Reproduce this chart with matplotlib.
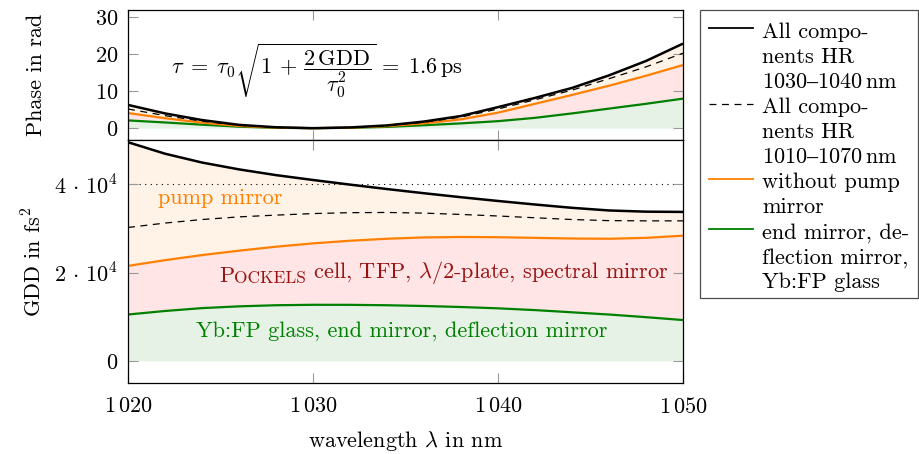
import numpy as np
import matplotlib
matplotlib.use("Agg")
import matplotlib.pyplot as plt
from matplotlib.lines import Line2D
from matplotlib.patches import Rectangle
from matplotlib.ticker import FixedLocator, FuncFormatter

plt.rcParams['font.family'] = ['cmr10', 'DejaVu Serif']
plt.rcParams['mathtext.fontset'] = 'cm'
plt.rcParams['axes.formatter.use_mathtext'] = True
plt.rcParams['axes.unicode_minus'] = False
plt.rcParams['lines.scale_dashes'] = False

# ---- data -------------------------------------------------------------
wavelength = [1020, 1022, 1024, 1026, 1028, 1030, 1032, 1034,
              1036, 1038, 1040, 1042, 1044, 1046, 1048, 1050]

# spectral phase in rad
phase_hr_1030_1040 = [6.3, 4.0, 2.2, 0.9, 0.25, 0.0, 0.2, 0.75,
                      1.8, 3.3, 5.7, 8.2, 10.9, 14.3, 18.2, 22.9]
phase_hr_1010_1070 = [5.2, 3.4, 1.9, 0.8, 0.2, 0.0, 0.2, 0.7,
                      1.6, 3.0, 5.2, 7.7, 10.3, 13.4, 16.6, 20.3]
phase_no_pump = [4.1, 2.7, 1.5, 0.6, 0.15, 0.0, 0.15, 0.55,
                 1.3, 2.4, 4.2, 6.6, 9.0, 11.5, 14.2, 17.1]
phase_end_defl_glass = [2.1, 1.55, 0.95, 0.4, 0.1, 0.0, 0.1, 0.35,
                        0.8, 1.3, 1.9, 2.8, 4.0, 5.3, 6.6, 8.0]

# group delay dispersion in fs^2
gdd_hr_1030_1040 = [49500, 46900, 44900, 43350, 42050, 40950, 39900, 38900,
                    37950, 37050, 36200, 35400, 34650, 34050, 33780, 33720]
gdd_hr_1010_1070 = [30200, 31200, 32000, 32600, 33000, 33350, 33550, 33600,
                    33450, 33150, 32800, 32400, 32000, 31750, 31700, 31700]
gdd_no_pump = [21500, 22800, 23950, 24950, 25850, 26600, 27200, 27650,
               27950, 28050, 28000, 27850, 27700, 27650, 27850, 28350]
gdd_end_defl_glass = [10500, 11300, 11950, 12350, 12600, 12700, 12690, 12600,
                      12430, 12200, 11900, 11500, 11000, 10500, 9900, 9250]

gdd_reference = 40000

x_ticks = [1020, 1030, 1040, 1050]
phase_ticks = [0, 10, 20, 30]
gdd_ticks = [0, 20000, 40000]

legend_labels = [
    ["All compo-", "nents HR", "1030$\u2013$1040$\\,$nm"],
    ["All compo-", "nents HR", "1010$\u2013$1070$\\,$nm"],
    ["without pump", "mirror"],
    ["end mirror, de-", "flection mirror,", "Yb:FP glass"],
]

# ---- style ------------------------------------------------------------
C_ORANGE = '#ff8000'
C_GREEN = '#008000'
C_RED = '#991111'
F_ORANGE = '#fff2e6'
F_RED = '#ffe5e5'
F_GREEN = '#e5f2e5'
FS = 16

W, H = 920, 454
fig = plt.figure(figsize=(W / 100, H / 100), dpi=100)


def px_rect(l, t, r, b):
    return [l / W, 1 - b / H, (r - l) / W, (b - t) / H]


ax1 = fig.add_axes(px_rect(128, 10, 683, 140))
ax2 = fig.add_axes(px_rect(128, 140, 683, 383), sharex=ax1)

x = np.asarray(wavelength)


def draw_panel(ax, black, dashed, orange, green):
    ax.fill_between(x, 0, green, color=F_GREEN, lw=0)
    ax.fill_between(x, green, orange, color=F_RED, lw=0)
    ax.fill_between(x, orange, black, color=F_ORANGE, lw=0)
    ax.plot(x, green, color=C_GREEN, lw=1.6, solid_capstyle='butt')
    ax.plot(x, orange, color=C_ORANGE, lw=1.6, solid_capstyle='butt')
    ax.plot(x, dashed, color='black', lw=0.9, dashes=(5, 4))
    ax.plot(x, black, color='black', lw=1.8, solid_capstyle='butt')


draw_panel(ax1, phase_hr_1030_1040, phase_hr_1010_1070, phase_no_pump,
           phase_end_defl_glass)
draw_panel(ax2, gdd_hr_1030_1040, gdd_hr_1010_1070, gdd_no_pump,
           gdd_end_defl_glass)
ax2.axhline(gdd_reference, color='black', lw=0.8, dashes=(0.8, 3.2), zorder=1.5)

for ax in (ax1, ax2):
    ax.set_xlim(x_ticks[0], x_ticks[-1])
    ax.tick_params(direction='in', length=7.5, width=0.8, color='0.6',
                   top=True, right=True, labelsize=FS, pad=7)
    for s in ax.spines.values():
        s.set_linewidth(0.9)
        s.set_zorder(5)

ax1.set_ylim(-3.2, 32.0)
ax2.set_ylim(-5000, 50000)
ax1.xaxis.set_major_locator(FixedLocator(x_ticks))
ax1.yaxis.set_major_locator(FixedLocator(phase_ticks))
ax2.yaxis.set_major_locator(FixedLocator(gdd_ticks))
ax1.tick_params(axis='x', labelbottom=False)
ax2.tick_params(axis='x', pad=10)


def fmt_wl(v, pos):
    s = f"{int(round(v))}"
    return f"${s[0]}\\,{s[1:]}$"


def fmt_gdd(v, pos):
    if v == 0:
        return "$0$"
    e = int(np.floor(np.log10(abs(v))))
    m = v / 10 ** e
    return f"${m:g}\\,\\cdot\\,10^{{{e}}}$"


ax2.xaxis.set_major_formatter(FuncFormatter(fmt_wl))
ax1.yaxis.set_major_formatter(FuncFormatter(lambda v, p: f"${v:g}$"))
ax2.yaxis.set_major_formatter(FuncFormatter(fmt_gdd))

ax1.set_ylabel("Phase in rad", fontsize=FS)
ax2.set_ylabel("GDD in fs$^2$", fontsize=FS)
ax1.yaxis.set_label_coords(-0.148, 0.5)
ax2.yaxis.set_label_coords(-0.148, 0.5)
ax2.set_xlabel("wavelength $\\lambda$ in nm", fontsize=FS)
ax2.xaxis.set_label_coords(0.5, -0.19)

# ---- annotations ------------------------------------------------------
ax1.text(1030.2, 15.6,
         r"$\tau \;=\; \tau_0\sqrt{1\,+\,\dfrac{2\,\mathrm{GDD}}{\tau_0^2}}\,=\;1.6\,\mathrm{ps}$",
         fontsize=FS, ha='center', va='center')

ax2.text(1021.6, 36800, "pump mirror", color=C_ORANGE, fontsize=FS,
         ha='left', va='center')
ax2.text(1034.8, 6800, "Yb:FP glass, end mirror, deflection mirror",
         color=C_GREEN, fontsize=FS, ha='center', va='center')

t_main = ax2.text(1049.2, 20000, " cell, TFP, $\\lambda$/2-plate, spectral mirror",
                  color=C_RED, fontsize=FS, ha='right', va='center')
t_sc = ax2.annotate("OCKELS", xy=(0, 0), xycoords=t_main, color=C_RED,
                    fontsize=FS * 0.78, ha='right', va='bottom')
ax2.annotate("P", xy=(0, 0), xycoords=t_sc, color=C_RED, fontsize=FS,
             ha='right', va='bottom')

# ---- legend -----------------------------------------------------------
def fx(px):
    return px / W


def fy(py):
    return 1 - py / H


fig.add_artist(Rectangle((fx(700), fy(298)), fx(918) - fx(700), fy(10) - fy(298),
                         transform=fig.transFigure, fill=False,
                         edgecolor='0.3', lw=0.9))

handle_styles = [
    dict(color='black', lw=1.3),
    dict(color='black', lw=0.9, dashes=(5, 4)),
    dict(color=C_ORANGE, lw=1.3),
    dict(color=C_GREEN, lw=1.3),
]
row = 0
for lines, style in zip(legend_labels, handle_styles):
    yh = 28.3 + 25.1 * row
    fig.add_artist(Line2D([fx(709), fx(753)], [fy(yh), fy(yh)],
                          transform=fig.transFigure, **style))
    for ln in lines:
        fig.text(fx(762), fy(31.5 + 25.1 * row + 6), ln, fontsize=FS,
                 ha='left', va='baseline')
        row += 1

fig.savefig("out.png", dpi=100)
